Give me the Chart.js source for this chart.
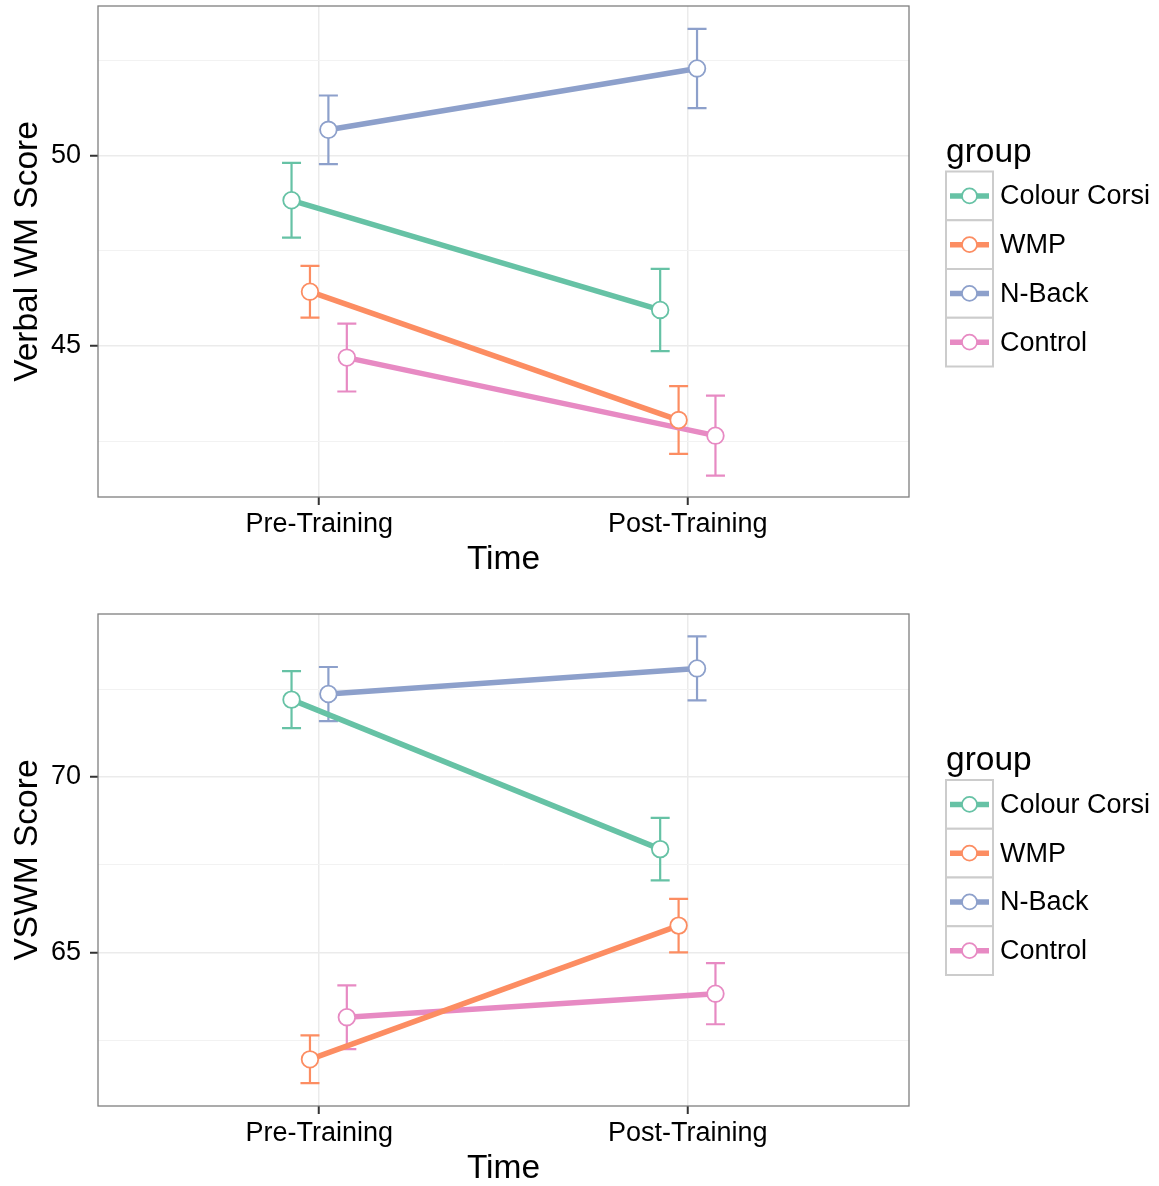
<!DOCTYPE html>
<html>
<head>
<meta charset="utf-8">
<title>Verbal WM / VSWM</title>
<script src="https://cdn.jsdelivr.net/npm/chart.js@4/dist/chart.umd.min.js"></script>
<style>
  html, body { margin: 0; padding: 0; background: #fff; }
  canvas { display: block; }
</style>
</head>
<body>
<canvas id="verbal" width="1159" height="577"></canvas>
<canvas id="vswm" width="1159" height="609"></canvas>
<script>
  'use strict';

  const timepoints = ['Pre-Training', 'Post-Training'];
  const groups = ['Colour Corsi', 'WMP', 'N-Back', 'Control'];
  const groupColours = ['#66c2a5', '#fc8d62', '#8da0cb', '#e78ac3'];

  // Verbal WM: mean per group, [pre, post], and error bar half-widths
  const verbalMean = [
    [48.82, 45.94],
    [46.42, 43.05],
    [50.67, 52.28],
    [44.69, 42.64]
  ];
  const verbalErr = [
    [0.98, 1.08],
    [0.68, 0.89],
    [0.90, 1.04],
    [0.89, 1.05]
  ];
  const verbalTicks = [42.5, 45, 47.5, 50, 52.5];

  // VSWM: same layout
  const vswmMean = [
    [72.20, 67.94],
    [61.95, 65.76],
    [72.36, 73.09],
    [63.15, 63.82]
  ];
  const vswmErr = [
    [0.81, 0.89],
    [0.68, 0.76],
    [0.77, 0.91],
    [0.91, 0.87]
  ];
  const vswmTicks = [62.5, 65, 67.5, 70, 72.5];

  const FONT = '"Liberation Sans", Arial, Helvetica, sans-serif';
  Chart.defaults.font.family = FONT;
  Chart.defaults.color = '#000';

  // groups sit side by side around each time point (dodge width 0.2)
  const DODGE = 0.2;
  function xPos(t, g) {
    return t + 1 + (g - (groups.length - 1) / 2) * DODGE / groups.length;
  }

  function errorBarPlugin(mean, err) {
    return {
      id: 'errorBars',
      beforeDatasetsDraw(chart) {
        const { ctx, scales: { x, y } } = chart;
        ctx.save();
        ctx.lineWidth = 2.2;
        mean.forEach((row, g) => {
          ctx.strokeStyle = groupColours[g];
          row.forEach((m, t) => {
            const px = x.getPixelForValue(xPos(t, g));
            const top = y.getPixelForValue(m + err[g][t]);
            const bot = y.getPixelForValue(m - err[g][t]);
            ctx.beginPath();
            ctx.moveTo(px, top); ctx.lineTo(px, bot);
            ctx.moveTo(px - 9.5, top); ctx.lineTo(px + 9.5, top);
            ctx.moveTo(px - 9.5, bot); ctx.lineTo(px + 9.5, bot);
            ctx.stroke();
          });
        });
        ctx.restore();
      }
    };
  }

  const panelBorder = {
    id: 'panelBorder',
    afterDatasetsDraw(chart) {
      const { ctx, chartArea: a } = chart;
      ctx.save();
      ctx.strokeStyle = '#7f7f7f';
      ctx.lineWidth = 1.3;
      ctx.strokeRect(a.left, a.top, a.right - a.left, a.bottom - a.top);
      ctx.restore();
    }
  };

  // legend on the right: title + boxed keys (line with open circle)
  const groupLegend = {
    id: 'groupLegend',
    afterDraw(chart) {
      const { ctx, chartArea: a } = chart;
      const keyW = 47, keyH = 48.75, titleH = 35;
      const left = a.right + 37;
      const top = (a.top + a.bottom) / 2 - (titleH + groups.length * keyH) / 2;
      ctx.save();
      ctx.textBaseline = 'middle';
      ctx.textAlign = 'left';
      ctx.fillStyle = '#000';
      ctx.font = '33.5px ' + FONT;
      ctx.fillText('group', left, top + 16);
      groups.forEach((name, g) => {
        const y0 = top + titleH + g * keyH;
        const cy = y0 + keyH / 2;
        const cx = left + keyW / 2;
        ctx.fillStyle = '#fff';
        ctx.fillRect(left, y0, keyW, keyH);
        ctx.strokeStyle = '#cccccc';
        ctx.lineWidth = 2;
        ctx.strokeRect(left, y0, keyW, keyH);

        ctx.strokeStyle = groupColours[g];
        ctx.lineWidth = 5.5;
        ctx.beginPath();
        ctx.moveTo(left + 4, cy);
        ctx.lineTo(left + keyW - 4, cy);
        ctx.stroke();

        ctx.beginPath();
        ctx.arc(cx, cy, 7.5, 0, Math.PI * 2);
        ctx.fillStyle = '#fff';
        ctx.fill();
        ctx.lineWidth = 1.7;
        ctx.stroke();

        ctx.fillStyle = '#000';
        ctx.font = '27px ' + FONT;
        ctx.fillText(name, left + 54, cy + 1);
      });
      ctx.restore();
    }
  };

  function buildChart(id, mean, err, ticks, yMin, yMax, yTitle, padTop) {
    const series = (g) => mean[g].map((v, t) => ({ x: xPos(t, g), y: v }));
    const lines = groups.map((name, g) => ({
      label: name,
      data: series(g),
      borderColor: groupColours[g],
      borderWidth: 5.5,
      pointRadius: 0,
      fill: false,
      order: 1
    }));
    const points = groups.map((name, g) => ({
      label: name,
      data: series(g),
      showLine: false,
      pointRadius: 8.3,
      pointBorderWidth: 1.8,
      pointBackgroundColor: '#fff',
      pointBorderColor: groupColours[g],
      order: 0
    }));

    return new Chart(document.getElementById(id), {
      type: 'line',
      data: { datasets: lines.concat(points) },
      options: {
        responsive: false,
        animation: false,
        devicePixelRatio: 1,
        // fixed margins; no extra room reserved for point overflow
        layout: { autoPadding: false, padding: { top: padTop, right: 250, bottom: 0, left: 0 } },
        plugins: { legend: { display: false }, tooltip: { enabled: false } },
        scales: {
          x: {
            type: 'linear',
            min: 0.4,
            max: 2.6,
            afterBuildTicks: axis => { axis.ticks = timepoints.map((_, t) => ({ value: t + 1 })); },
            afterFit: axis => {
              axis.height = 80;
              axis.paddingLeft = 0;
              axis.paddingRight = 0;
            },
            ticks: {
              callback: v => timepoints[Math.round(v) - 1],
              color: '#000',
              font: { size: 27 },
              padding: 3,
              maxRotation: 0,
              autoSkip: false
            },
            grid: { color: '#ebebeb', lineWidth: 1.5, tickColor: '#333', tickLength: 8, tickWidth: 2 },
            border: { display: false },
            title: { display: true, text: 'Time', color: '#000', font: { size: 33.5, lineHeight: 1 }, padding: 0 }
          },
          y: {
            min: yMin,
            max: yMax,
            afterBuildTicks: axis => { axis.ticks = ticks.map(v => ({ value: v })); },
            afterFit: axis => {
              axis.width = 98;
              axis.paddingTop = 0;
              axis.paddingBottom = 0;
            },
            ticks: {
              callback: v => (v % 5 === 0 ? String(v) : ''),
              color: '#000',
              font: { size: 27 },
              padding: 9
            },
            grid: {
              color: c => (c.tick && c.tick.value % 5 === 0 ? '#ebebeb' : '#f2f2f2'),
              lineWidth: c => (c.tick && c.tick.value % 5 === 0 ? 1.5 : 1),
              tickColor: c => (c.tick && c.tick.value % 5 === 0 ? '#333' : 'rgba(0,0,0,0)'),
              tickLength: 8,
              tickWidth: 2
            },
            border: { display: false },
            title: { display: true, text: yTitle, color: '#000', font: { size: 33.5, lineHeight: 1 }, padding: { top: 11.5, bottom: 0 } }
          }
        }
      },
      plugins: [errorBarPlugin(mean, err), panelBorder, groupLegend]
    });
  }

  buildChart('verbal', verbalMean, verbalErr, verbalTicks, 41.03, 53.92, 'Verbal WM Score', 6);
  buildChart('vswm', vswmMean, vswmErr, vswmTicks, 60.62, 74.64, 'VSWM Score', 37);
</script>
</body>
</html>
